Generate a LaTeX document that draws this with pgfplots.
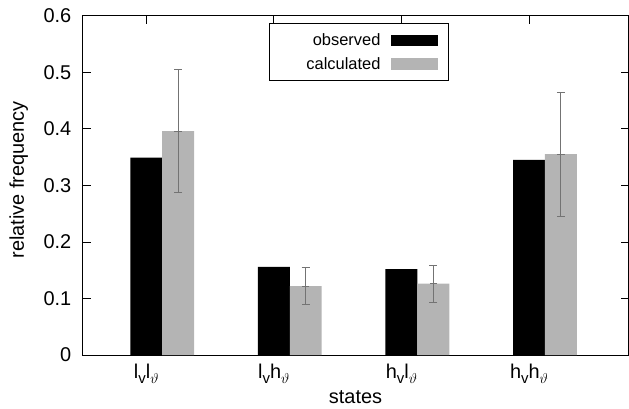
\documentclass[border=0pt]{standalone}
\usepackage{fontspec}
\setmainfont{Liberation Sans}
\usepackage{pgfplots}
\pgfplotsset{compat=1.18}
\definecolor{barg}{RGB}{180,180,180}
\definecolor{errg}{RGB}{115,115,115}
\newcommand{\sub}[1]{\raisebox{-0.22em}{\fontsize{15}{15}\selectfont #1}}
\begin{document}
\begin{tikzpicture}
\begin{axis}[
  width=546bp, height=339.3bp, scale only axis,
  xmin=-0.5, xmax=3.78, ymin=0, ymax=0.6,
  xtick={0,1,2,3},
  xticklabels={l\sub{v}l\sub{$\vartheta$},
               l\sub{v}h\sub{$\vartheta$},
               h\sub{v}l\sub{$\vartheta$},
               h\sub{v}h\sub{$\vartheta$}},
  ytick={0,0.1,0.2,0.3,0.4,0.5,0.6},
  /pgf/number format/assume math mode=true,
  tick align=inside, major tick length=8bp,
  tick style={line width=0.8bp, black},
  axis line style={line width=1bp},
  tick label style={font=\fontsize{20}{24}\selectfont},
  yticklabel style={inner sep=0pt, xshift=-11bp},
  xticklabel style={inner sep=0pt, yshift=-9bp},
  xlabel={states}, ylabel={relative frequency},
  label style={font=\fontsize{20}{24}\selectfont},
  xlabel style={at={(axis description cs:0.5,0)}, anchor=base, yshift=-48.3bp},
  ylabel style={at={(axis description cs:0,0.516)}, anchor=base, yshift=58.5bp},
  legend style={at={(axis description cs:0.342,0.9776)}, anchor=north west,
    draw=black, line width=1bp, inner xsep=0pt, inner ysep=8bp,
    font=\fontsize{16.5}{19}\selectfont, row sep=6bp, column sep=8.7bp,
    cells={anchor=east}},
  legend plot pos=right,
]
\coordinate (O) at (rel axis cs:0,0);
\addplot[ybar, bar width=0.25, bar shift=0pt, fill=black, draw=none,
  legend image code/.code={\fill[black] (0bp,-5.75bp) rectangle (47.3bp,5.75bp); \path (57.3bp,0bp);}]
  coordinates {(0,0.349) (1,0.156) (2,0.152) (3,0.345)};
\addlegendentry{\makebox[108.7bp][r]{observed}}
\addplot[ybar, bar width=0.25, bar shift=0pt, fill=barg, draw=none,
  legend image code/.code={\fill[barg] (0bp,-5.75bp) rectangle (47.3bp,5.75bp); \path (57.3bp,0bp);}]
  coordinates {(0.25,0.396) (1.25,0.122) (2.25,0.126) (3.25,0.355)};
\addlegendentry{\makebox[108.7bp][r]{calculated}}
\addplot[only marks, mark=-, mark size=3.7bp, color=errg, line width=1bp,
  forget plot,
  error bars/.cd, y dir=both, y explicit,
  error bar style={line width=1bp, color=errg},
  error mark options={rotate=90, mark size=4bp, line width=1bp, color=errg}]
  coordinates {(0.25,0.396) +- (0,0.109) (1.25,0.122) +- (0,0.032)
               (2.25,0.126) +- (0,0.033) (3.25,0.355) +- (0,0.110)};
\end{axis}
\pgfresetboundingbox
\path (O) ++(-82.5bp,-54bp) rectangle ++(629bp,409bp);
\end{tikzpicture}
\end{document}
